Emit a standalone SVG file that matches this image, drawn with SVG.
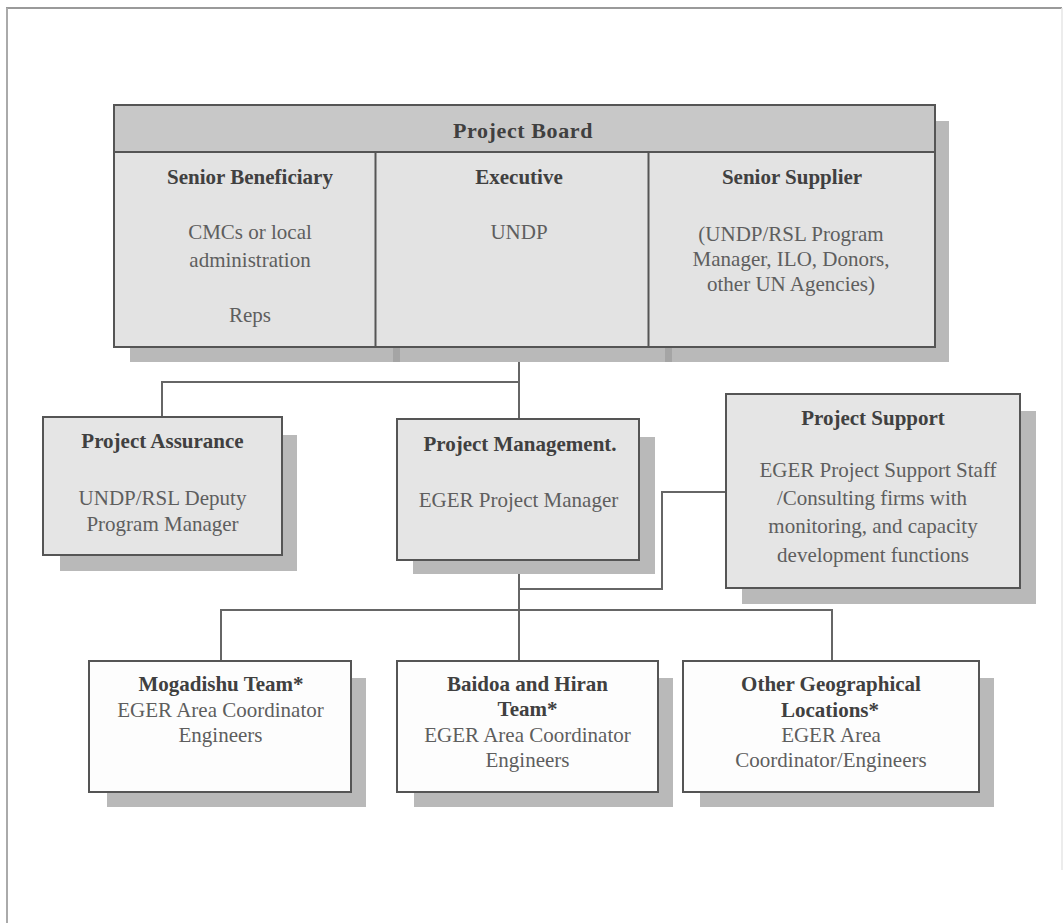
<svg xmlns="http://www.w3.org/2000/svg" width="1064" height="923" viewBox="0 0 1064 923">
<style>
  .shadow { fill: #b9b9b9; }
  .box { stroke: #555; stroke-width: 2; }
  .grey { fill: #e5e5e5; }
  .white { fill: #fdfdfd; }
  .hdr { fill: #c8c8c8; }
  .conn { fill: none; stroke: #666; stroke-width: 2; }
  text { font-family: "Liberation Serif", "Times New Roman", serif; font-size: 21px; text-anchor: middle; }
  .b { font-weight: bold; fill: #404040; }
  .n { fill: #5e5e5e; }
</style>
<rect x="0" y="0" width="1064" height="923" fill="#ffffff"/>
<g id="frame" fill="none">
  <line x1="6" y1="8" x2="1062" y2="8" stroke="#9a9a9a" stroke-width="2"/>
  <line x1="7" y1="8" x2="7" y2="923" stroke="#aaaaaa" stroke-width="2"/>
  <line x1="1062" y1="8" x2="1062" y2="870" stroke="#e6e6e6" stroke-width="1.5"/>
</g>
<g id="connectors">
  <path class="conn" d="M519 347 V419"/>
  <path class="conn" d="M519 382 H162 V417"/>
  <path class="conn" d="M519 560 V661"/>
  <path class="conn" d="M519 589 H662 V492 H726"/>
  <path class="conn" d="M221 661 V610 H832 V661"/>
</g>
<g id="project-board">
  <rect class="shadow" x="130" y="121" width="819" height="241"/>
  <rect x="393" y="347" width="7" height="15" fill="#a5a5a5"/>
  <rect x="665" y="347" width="7" height="15" fill="#a5a5a5"/>
  <rect class="box" x="114" y="105" width="821" height="242" fill="#e3e3e3"/>
  <rect class="box hdr" x="114" y="105" width="821" height="47"/>
  <line x1="375.5" y1="152" x2="375.5" y2="347" stroke="#555" stroke-width="2"/>
  <line x1="648.5" y1="152" x2="648.5" y2="347" stroke="#555" stroke-width="2"/>
  <text class="b" x="523" y="138" style="font-size:22px;letter-spacing:0.6px">Project Board</text>
  <text class="b" x="250" y="184">Senior Beneficiary</text>
  <text class="n" x="250" y="239">CMCs or local</text>
  <text class="n" x="250" y="267">administration</text>
  <text class="n" x="250" y="322">Reps</text>
  <text class="b" x="519" y="184">Executive</text>
  <text class="n" x="519" y="239">UNDP</text>
  <text class="b" x="792" y="184">Senior Supplier</text>
  <text class="n" x="791" y="241">(UNDP/RSL Program</text>
  <text class="n" x="791" y="266">Manager, ILO, Donors,</text>
  <text class="n" x="791" y="291">other UN Agencies)</text>
</g>
<g id="project-assurance">
  <rect class="shadow" x="60" y="435" width="237" height="136"/>
  <rect class="box grey" x="43" y="417" width="239" height="138"/>
  <text class="b" x="162.5" y="448">Project Assurance</text>
  <text class="n" x="162.5" y="505">UNDP/RSL Deputy</text>
  <text class="n" x="162.5" y="531">Program Manager</text>
</g>
<g id="project-management">
  <rect class="shadow" x="413" y="437" width="242" height="137"/>
  <rect class="box grey" x="397" y="419" width="242" height="141"/>
  <text class="b" x="520" y="451">Project Management.</text>
  <text class="n" x="518.5" y="507">EGER Project Manager</text>
</g>
<g id="project-support">
  <rect class="shadow" x="742" y="411" width="294" height="193"/>
  <rect class="box grey" x="726" y="394" width="294" height="194"/>
  <text class="b" x="873" y="425">Project Support</text>
  <text class="n" x="878" y="477">EGER Project Support Staff</text>
  <text class="n" x="872" y="505">/Consulting firms with</text>
  <text class="n" x="873" y="533">monitoring, and capacity</text>
  <text class="n" x="873" y="562">development functions</text>
</g>
<g id="mogadishu-team">
  <rect class="shadow" x="107" y="678" width="259" height="129"/>
  <rect class="box white" x="89" y="661" width="262" height="131"/>
  <text class="b" x="221" y="691">Mogadishu Team*</text>
  <text class="n" x="220.5" y="717">EGER Area Coordinator</text>
  <text class="n" x="220.5" y="742">Engineers</text>
</g>
<g id="baidoa-hiran-team">
  <rect class="shadow" x="414" y="678" width="259" height="129"/>
  <rect class="box white" x="397" y="661" width="261" height="131"/>
  <text class="b" x="527.5" y="691">Baidoa and Hiran</text>
  <text class="b" x="527.5" y="716">Team*</text>
  <text class="n" x="527.5" y="742">EGER Area Coordinator</text>
  <text class="n" x="527.5" y="767">Engineers</text>
</g>
<g id="other-locations">
  <rect class="shadow" x="700" y="678" width="294" height="129"/>
  <rect class="box white" x="683" y="661" width="296" height="131"/>
  <text class="b" x="831" y="691">Other Geographical</text>
  <text class="b" x="830" y="717">Locations*</text>
  <text class="n" x="831" y="742">EGER Area</text>
  <text class="n" x="831" y="767">Coordinator/Engineers</text>
</g>
</svg>
